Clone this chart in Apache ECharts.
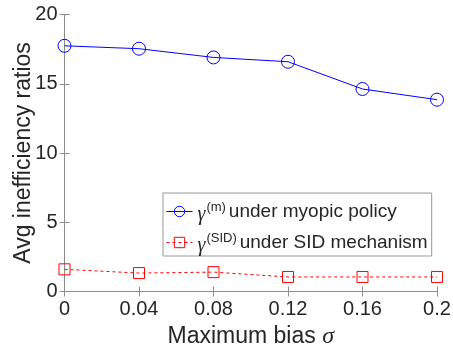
<!DOCTYPE html>
<html><head><meta charset="utf-8">
<script src="https://cdn.jsdelivr.net/npm/echarts@6/dist/echarts.min.js"></script>
<style>html,body{margin:0;padding:0;background:#fff}#c{width:453px;height:350px}</style>
</head><body><div id="c"></div>
<script>
const sigmas = [0, 0.04, 0.08, 0.12, 0.16, 0.2];
const myopic = [17.74, 17.53, 16.9, 16.59, 14.62, 13.85];
const sid = [1.6, 1.33, 1.4, 1.05, 1.05, 1.05];
const xTicks = ['0', '0.04', '0.08', '0.12', '0.16', '0.2'];
const yTicks = [0, 5, 10, 15, 20];

const FONT = '"Liberation Sans", Arial, Helvetica, sans-serif';
const AX = '#8c8c8c';
const TXT = '#262626';
const chart = echarts.init(document.getElementById('c'));
const rich = {
  g: {fontFamily: '"Liberation Serif", serif', fontStyle: 'italic', fontSize: 20, color: TXT, lineHeight: 24, padding: [7,0,0,0]},
  sup: {fontFamily: FONT, fontSize: 13, color: TXT, lineHeight: 24, padding: [0,0,9,1]},
  t: {fontFamily: FONT, fontSize: 19, color: TXT, lineHeight: 24, padding: [0,0,0,3]}
};
function xfmt(v){ const i = sigmas.findIndex(s => Math.abs(s - v) < 1e-9); return i >= 0 ? xTicks[i] : ''; }
chart.setOption({
  animation: false,
  grid: {left: 64.5, right: 16, top: 14.5, bottom: 58.5, containLabel: false, outerBoundsMode: 'none'},
  xAxis: [{
    type: 'value', min: 0, max: 0.2, interval: 0.04,
    name: 'Maximum bias {s|σ}', nameLocation: 'middle', nameGap: 33, nameMoveOverlap: false,
    nameTextStyle: {fontFamily: FONT, fontSize: 23, color: TXT, rich: {s: {fontFamily: '"Liberation Serif", serif', fontStyle: 'italic', fontSize: 24, color: TXT}}},
    axisLine: {lineStyle: {color: AX, width: 1}},
    axisTick: {inside: true, length: 5, lineStyle: {color: AX}},
    axisLabel: {formatter: xfmt, fontFamily: FONT, fontSize: 20, color: TXT, margin: 8},
    splitLine: {show: false}
  }, {
    type: 'value', min: 0, max: 0.2, interval: 0.04, position: 'top',
    axisLine: {lineStyle: {color: AX, width: 1}},
    axisTick: {inside: true, length: 5, lineStyle: {color: AX}},
    axisLabel: {show: false}, splitLine: {show: false}
  }],
  yAxis: [{
    type: 'value', min: 0, max: 20, interval: 5,
    name: 'Avg inefficiency ratios', nameLocation: 'middle', nameGap: 29, nameMoveOverlap: false,
    nameTextStyle: {fontFamily: FONT, fontSize: 23, color: TXT},
    axisLine: {show: true, lineStyle: {color: AX, width: 1}},
    axisTick: {show: true, inside: true, length: 5, lineStyle: {color: AX}},
    axisLabel: {fontFamily: FONT, fontSize: 20, color: TXT, margin: 7, formatter: v => yTicks.includes(v) ? String(v) : ''},
    splitLine: {show: false}
  }, {
    type: 'value', min: 0, max: 20, interval: 5, position: 'right',
    axisLine: {show: true, lineStyle: {color: AX, width: 1}},
    axisTick: {show: true, inside: true, length: 5, lineStyle: {color: AX}},
    axisLabel: {show: false}, splitLine: {show: false}
  }],
  legend: {
    left: 163, top: 193, orient: 'vertical',
    backgroundColor: '#fff', borderColor: '#999', borderWidth: 1,
    padding: [5, 4, 0, 3], itemGap: 4, itemWidth: 26, itemHeight: 13,
    lineStyle: {width: 1},
    itemStyle: {borderWidth: 1, color: 'transparent'},
    textStyle: {rich: rich, fontFamily: FONT, fontSize: 19, color: TXT},
    formatter: function(n){
      return n === 'm' ? '{g|γ}{sup|(m)}{t|under myopic policy}' : '{g|γ}{sup|(SID)}{t|under SID mechanism}';
    },
    data: ['m', 'SID']
  },
  series: [{
    name: 'm', type: 'line',
    data: sigmas.map((s, i) => [s, myopic[i]]),
    symbol: 'circle', symbolSize: 13, showAllSymbol: true,
    lineStyle: {color: '#0000ff', width: 1},
    itemStyle: {color: 'transparent', borderColor: '#0000ff', borderWidth: 1}
  }, {
    name: 'SID', type: 'line',
    data: sigmas.map((s, i) => [s, sid[i]]),
    symbol: 'rect', symbolSize: 11, showAllSymbol: true,
    lineStyle: {color: '#ff0000', width: 1, type: [3, 3]},
    itemStyle: {color: 'transparent', borderColor: '#ff0000', borderWidth: 1}
  }]
});
</script></body></html>
